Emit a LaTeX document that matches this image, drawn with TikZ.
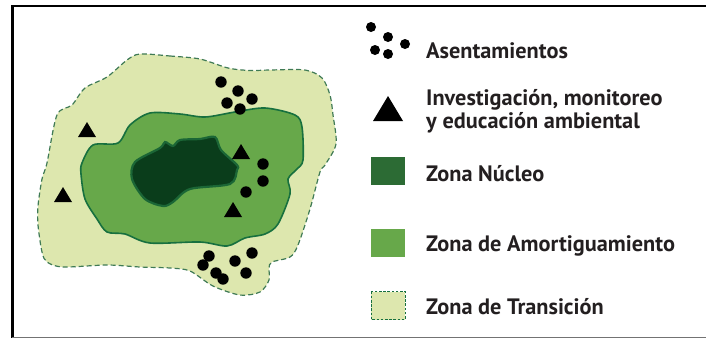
\documentclass[tikz,border=0pt]{standalone}
\usepackage{fontspec}
\setmainfont{PT Sans}
\definecolor{trans}{HTML}{DDE7AE}
\definecolor{buffer}{HTML}{67A84A}
\definecolor{edgegreen}{HTML}{17703F}
\definecolor{dashgreen}{HTML}{3F7A55}
\definecolor{core}{HTML}{0A3D1B}
\definecolor{corering}{HTML}{1B6636}
\definecolor{legcore}{HTML}{2C6B34}
\definecolor{ink}{HTML}{231F20}
\tikzset{
  dot/.style={fill=black,draw=none},
  tri/.style={fill=black,draw=none},
  lab/.style={anchor=base west,inner sep=0pt,font=\bfseries\fontsize{22.3}{22.3}\selectfont,text=ink},
  zonetrans/.style={fill=trans,draw=dashgreen,line width=1.2pt,dash pattern=on 5pt off 3pt},
  zonebuffer/.style={fill=buffer,draw=edgegreen,line width=1.6pt},
  zonecore/.style={fill=core,draw=corering,line width=2.2pt},
}
\begin{document}
\begin{tikzpicture}[x=1pt,y=-1pt]
\useasboundingbox (0,0) rectangle (706,338);
% frame
\draw[black,line width=1.6pt] (11,6) -- (706,6);
\draw[black,line width=2.4pt] (12.5,5.5) -- (12.5,338);
\draw[black!55,line width=1pt] (12,337.5) -- (706,337.5);
% transition zone
\draw[zonetrans] plot[smooth cycle,tension=0.5] coordinates {
 (140,54) (170,56) (200,59) (228,68) (250,70.5) (270,70) (305,70) (322,78) (330,95)
 (333,115) (336,144) (325,165) (320,172) (310,209) (298,245) (290,257) (272,262) (269,268) (269,280)
 (260,292) (240,295) (213,286) (190,271) (170,268) (140,267) (107,265) (63,267) (47,262) (42,252)
 (38,225) (38,206) (42,179) (47,163) (57,115) (72,105) (85,88) (107,77) (127,60)};
% buffer zone
\draw[zonebuffer] plot[smooth cycle,tension=0.5] coordinates {
 (82,163) (93,145) (118,143) (130,125) (150,113) (180,114) (205,117) (235,112) (265,108) (295,115) (302,127)
 (303,160) (297,169) (288,179) (290,194) (278,224) (265,234) (245,238) (227,246) (200,242) (150,243)
 (125,234) (107,232) (97,219) (85,199) (81,174)};
% core zone
\draw[zonecore] plot[smooth cycle,tension=0.5] coordinates {
 (135,162) (160,148) (165,142) (173,146) (180,140) (200,139) (215,137) (221,150) (237,165) (237,170)
 (230,184) (190,189) (173,202) (163,206) (145,199) (132,179)};
% settlements
\foreach \p in {(221,82),(238,91),(227,103),(252,99),(240,109),
 (263,164),(263,181),(246,192),
 (209,256),(203,265),(216,273),(223,279),(235,261),(252,253),(246,273)}
 \fill[dot] \p circle (5.7);
% triangles
\foreach \x/\y in {87/122,241/144,63/187,233/202}
 \fill[tri] (\x,\y) -- (\x+9,\y+15) -- (\x-9,\y+15) -- cycle;
% legend symbols
\foreach \p in {(371,27),(388,37),(375,50),(405,44),(388,54)}
 \fill[dot] \p circle (5);
\fill[tri] (388,96) -- (403,121) -- (373,121) -- cycle;
\fill[legcore] (371,157) rectangle (405,185);
\fill[buffer] (371,229) rectangle (405,257);
\draw[fill=trans,draw=edgegreen,line width=0.9pt,dash pattern=on 2.6pt off 1.6pt] (371,291.5) rectangle (405,319.5);
% legend labels
\node[lab] (l1) at (426,58) {Asentamientos};
\node[lab] (l2) at (426,105) {Investigación, monitoreo};
\node[lab] (l2b) at (426,128) {y educación ambiental};
\node[lab] (l3) at (426,181) {Zona Núcleo};
\node[lab] (l4) at (426,251) {Zona de Amortiguamiento};
\node[lab] (l5) at (426,314) {Zona de Transición};
\end{tikzpicture}
\end{document}
